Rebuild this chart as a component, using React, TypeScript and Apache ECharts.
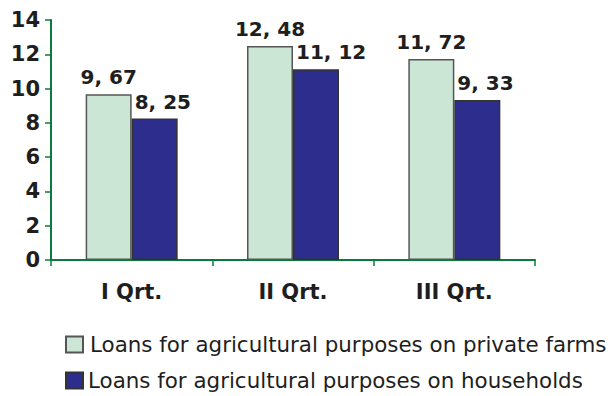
import React, { useEffect, useRef } from "react";
import * as echarts from "echarts";

const categories = ["I Qrt.", "II Qrt.", "III Qrt."];
const privateFarms = [9.67, 12.48, 11.72];
const households = [8.25, 11.12, 9.33];
const seriesNames = [
  "Loans for agricultural purposes on private farms",
  "Loans for agricultural purposes on households",
];

const fmt = (v: number) => v.toFixed(2).replace(".", ", ");

export default function App() {
  const ref = useRef<HTMLDivElement>(null);
  useEffect(() => {
    const chart = echarts.init(ref.current!, null, { renderer: "svg" });
    const axisColor = "#0b7a3c";
    const font = "'DejaVu Sans', sans-serif";
    const legendBase = {
      orient: "horizontal",
      left: 65,
      padding: 0,
      itemWidth: 17,
      itemHeight: 16,
      icon: "rect",
      textStyle: { fontSize: 21.4, color: "#1e1e1e", fontFamily: font },
    };
    chart.setOption({
      animation: false,
      textStyle: { fontFamily: font },
      grid: { left: 51, right: 78, top: 20, bottom: 136, containLabel: false },
      legend: [
        {
          ...legendBase,
          top: 334,
          data: [{ name: seriesNames[0], textStyle: { padding: [0, 0, 0, 2] } }],
        },
        {
          ...legendBase,
          top: 370,
          data: [{ name: seriesNames[1], textStyle: { padding: [0, 0, 0, 0] } }],
        },
      ],
      xAxis: {
        type: "category",
        data: categories,
        axisLine: { lineStyle: { color: axisColor, width: 2 } },
        axisTick: { show: true, length: 6, inside: false, lineStyle: { color: axisColor, width: 1.5 } },
        axisLabel: { fontSize: 21, fontWeight: "bold", color: "#1e1e1e", margin: 21, fontFamily: font },
      },
      yAxis: {
        type: "value",
        min: 0,
        max: 14,
        interval: 2,
        splitLine: { show: false },
        axisLine: { show: true, lineStyle: { color: axisColor, width: 2 } },
        axisTick: { show: true, length: 6, lineStyle: { color: axisColor, width: 1.5 } },
        axisLabel: { fontSize: 21, fontWeight: "bold", color: "#1e1e1e", margin: 11, fontFamily: font },
      },
      series: [
        {
          name: seriesNames[0],
          type: "bar",
          data: privateFarms,
          barWidth: 46,
          barGap: "0%",
          itemStyle: { color: "#cbe6d5", borderColor: "#555", borderWidth: 1.5 },
          label: {
            show: true,
            position: "top",
            distance: 7,
            formatter: (p: any) => fmt(p.value),
            fontSize: 20,
            fontWeight: "bold",
            color: "#1e1e1e",
            fontFamily: font,
          },
        },
        {
          name: seriesNames[1],
          type: "bar",
          data: households,
          barWidth: 46,
          barGap: "0%",
          itemStyle: { color: "#2d2d8e", borderColor: "#333", borderWidth: 1.5 },
          label: {
            show: true,
            position: "top",
            distance: 7,
            align: "left",
            offset: [-20, 0],
            formatter: (p: any) => fmt(p.value),
            fontSize: 20,
            fontWeight: "bold",
            color: "#1e1e1e",
            fontFamily: font,
          },
        },
      ],
    });
    return () => chart.dispose();
  }, []);
  return <div ref={ref} style={{ width: 613, height: 396, position: "absolute", left: 0, top: 0 }} />;
}
